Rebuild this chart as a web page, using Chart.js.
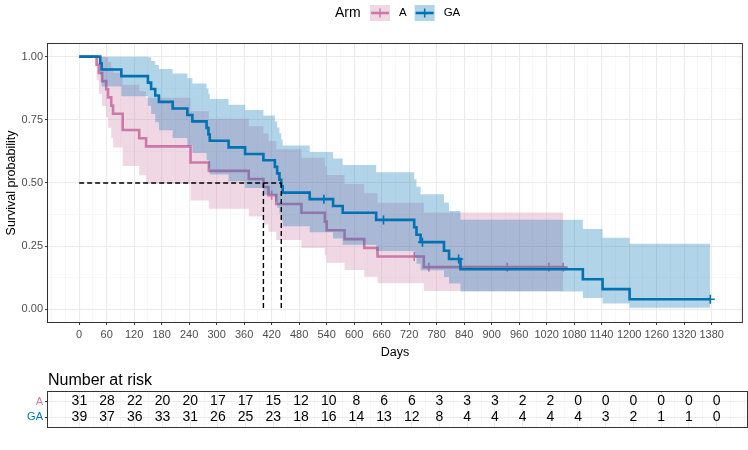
<!DOCTYPE html>
<html>
<head>
<meta charset="utf-8">
<script src="https://cdn.jsdelivr.net/npm/chart.js@4.4.1/dist/chart.umd.min.js"></script>
<style>
  body { margin: 0; background: #fff; }
  canvas { display: block; }
</style>
</head>
<body>
<canvas id="km" width="748" height="365"></canvas>
<canvas id="risk" width="748" height="85"></canvas>
<script>
// arms, colours
const arms = ['A', 'GA'];
const lineColors = ['#CC79A7', '#0072B2'];
const bandColors = ['rgba(204, 121, 167, 0.3)', 'rgba(0, 114, 178, 0.3)'];

// axis breaks
const timeBreaks = [0, 60, 120, 180, 240, 300, 360, 420, 480, 540, 600, 660, 720, 780, 840, 900, 960, 1020, 1080, 1140, 1200, 1260, 1320, 1380];
const survBreaks = [0, 0.25, 0.5, 0.75, 1];

// arm A: KM steps + 95% band
const aTime  = [0, 38, 43, 50, 59, 63, 70, 74, 95, 131, 146, 243, 283, 370, 402, 413, 430, 485, 536, 540, 579, 622, 651, 752, 1056];
const aSurv  = [1, 0.968, 0.935, 0.903, 0.871, 0.839, 0.806, 0.774, 0.710, 0.677, 0.645, 0.581, 0.548, 0.516, 0.484, 0.452, 0.417, 0.382, 0.347, 0.313, 0.278, 0.243, 0.209, 0.167, 0.167];
const aLower = [1, 0.908, 0.853, 0.805, 0.761, 0.719, 0.678, 0.640, 0.567, 0.531, 0.497, 0.431, 0.398, 0.367, 0.336, 0.307, 0.274, 0.243, 0.213, 0.184, 0.156, 0.129, 0.103, 0.073, 0.073];
const aUpper = [1, 1, 1, 1, 0.997, 0.979, 0.958, 0.936, 0.889, 0.863, 0.837, 0.784, 0.754, 0.725, 0.696, 0.666, 0.634, 0.600, 0.566, 0.532, 0.496, 0.459, 0.422, 0.383, 0.383];
const aCensDays = [420, 731, 763, 934, 1025, 1056];
const aCensSurv = [0.452, 0.209, 0.167, 0.167, 0.167, 0.167];

// arm GA
const gaTime  = [0, 46, 49, 92, 150, 157, 166, 174, 204, 236, 247, 278, 282, 285, 326, 362, 402, 427, 432, 437, 441, 444, 503, 554, 575, 648, 731, 736, 745, 796, 807, 832, 1099, 1142, 1201, 1377];
const gaSurv  = [1, 0.974, 0.949, 0.923, 0.897, 0.872, 0.846, 0.821, 0.795, 0.769, 0.744, 0.718, 0.692, 0.667, 0.641, 0.615, 0.590, 0.564, 0.538, 0.513, 0.487, 0.462, 0.436, 0.409, 0.382, 0.354, 0.325, 0.295, 0.266, 0.232, 0.199, 0.159, 0.119, 0.080, 0.040, 0.040];
const gaLower = [1, 0.926, 0.882, 0.843, 0.806, 0.773, 0.740, 0.709, 0.678, 0.648, 0.619, 0.590, 0.561, 0.534, 0.507, 0.480, 0.454, 0.428, 0.402, 0.378, 0.353, 0.329, 0.305, 0.280, 0.256, 0.231, 0.205, 0.180, 0.155, 0.128, 0.102, 0.071, 0.045, 0.023, 0.006, 0.006];
const gaUpper = [1, 1, 1, 1, 0.998, 0.983, 0.967, 0.951, 0.933, 0.914, 0.894, 0.874, 0.853, 0.832, 0.810, 0.789, 0.767, 0.743, 0.720, 0.697, 0.672, 0.648, 0.623, 0.597, 0.571, 0.543, 0.515, 0.485, 0.455, 0.423, 0.389, 0.355, 0.318, 0.283, 0.260, 0.260];
const gaCensDays = [534, 664, 749, 828, 1377];
const gaCensSurv = [0.436, 0.354, 0.266, 0.199, 0.040];

// medians (A, GA)
const medianDays = [402, 441];
const medianSurv = 0.5;

// number at risk at each time break
const aRisk  = [31, 28, 22, 20, 20, 17, 17, 15, 12, 10, 8, 6, 6, 3, 3, 3, 2, 2, 0, 0, 0, 0, 0, 0];
const gaRisk = [39, 37, 36, 33, 31, 26, 25, 23, 18, 16, 14, 13, 12, 8, 4, 4, 4, 4, 4, 3, 2, 1, 1, 0];

Chart.defaults.font.family = '"Liberation Sans", Arial, Helvetica, sans-serif';
Chart.defaults.color = '#4D4D4D';

const X_MIN = -68, X_MAX = 1446;
const pts = (xs, ys) => xs.map((x, i) => ({ x: x, y: ys[i] }));

const xGridTicks = [];
for (let v = -60; v <= 1440; v += 30) xGridTicks.push({ value: v });
const yGridTicks = [];
for (let v = 0; v <= 1; v += 0.125) yGridTicks.push({ value: v });

const isMajorX = (v) => timeBreaks.includes(v);
const isMajorY = (v) => survBreaks.includes(v);

const gridOpts = (isMajor) => ({
  color: (c) => isMajor(c.tick.value) ? '#EBEBEB' : '#F3F3F3',
  lineWidth: (c) => isMajor(c.tick.value) ? 1.1 : 0.6,
  tickColor: (c) => isMajor(c.tick.value) ? '#333333' : 'rgba(0,0,0,0)',
  tickLength: 3,
  tickWidth: 1
});

const panelBorder = {
  id: 'panelBorder',
  afterDraw(chart) {
    const { ctx, chartArea: a } = chart;
    ctx.save();
    ctx.strokeStyle = '#333333';
    ctx.lineWidth = 1;
    ctx.strokeRect(a.left - 0.5, a.top - 0.5, a.right - a.left + 1, a.bottom - a.top + 1);
    ctx.restore();
  }
};

const armLegend = {
  id: 'armLegend',
  afterDraw(chart) {
    const ctx = chart.ctx;
    const y = 13;
    ctx.save();
    ctx.textBaseline = 'middle';
    ctx.fillStyle = '#000';
    ctx.font = '14px "Liberation Sans", Arial, sans-serif';
    ctx.fillText('Arm', 335, y);
    ctx.font = '11.5px "Liberation Sans", Arial, sans-serif';
    let x = 370;
    arms.forEach((arm, i) => {
      ctx.fillStyle = bandColors[i];
      ctx.fillRect(x, y - 8, 20, 16);
      ctx.strokeStyle = lineColors[i];
      ctx.lineWidth = 2.6;
      ctx.beginPath();
      ctx.moveTo(x + 1, y);
      ctx.lineTo(x + 19, y);
      ctx.stroke();
      ctx.lineWidth = 1.5;
      ctx.beginPath();
      ctx.moveTo(x + 10, y - 4.5);
      ctx.lineTo(x + 10, y + 4.5);
      ctx.stroke();
      ctx.fillStyle = '#000';
      ctx.fillText(arm, x + 29, y);
      x += 29 + ctx.measureText(arm).width + 8;
    });
    ctx.restore();
  }
};

const stepLine = (data, color, order) => ({
  data: data, borderColor: color, borderWidth: 2.6, stepped: 'before',
  pointRadius: 0, fill: false, order: order
});
const bandEdge = (data, fill, bg, order) => ({
  data: data, borderWidth: 0, borderColor: 'rgba(0,0,0,0)', stepped: 'before',
  pointRadius: 0, fill: fill, backgroundColor: bg, order: order
});
const censor = (data, color, order) => ({
  data: data, showLine: false, pointStyle: 'cross', pointRadius: 4.5,
  pointBorderWidth: 1.6, pointBorderColor: color, order: order
});
const dashed = (data) => ({
  data: data, borderColor: '#000', borderWidth: 1.4, borderDash: [5, 3],
  pointRadius: 0, fill: false, order: 1
});

new Chart(document.getElementById('km'), {
  type: 'line',
  data: {
    datasets: [
      bandEdge(pts(aTime, aLower), false, 'rgba(0,0,0,0)', 9),
      bandEdge(pts(aTime, aUpper), 0, bandColors[0], 8),
      stepLine(pts(aTime, aSurv), lineColors[0], 7),
      censor(pts(aCensDays, aCensSurv), lineColors[0], 6),
      bandEdge(pts(gaTime, gaLower), false, 'rgba(0,0,0,0)', 5),
      bandEdge(pts(gaTime, gaUpper), 4, bandColors[1], 4),
      stepLine(pts(gaTime, gaSurv), lineColors[1], 3),
      censor(pts(gaCensDays, gaCensSurv), lineColors[1], 2),
      dashed([{ x: 0, y: medianSurv }, { x: Math.max(...medianDays), y: medianSurv }]),
      dashed([{ x: medianDays[0], y: medianSurv }, { x: medianDays[0], y: 0 }]),
      dashed([{ x: medianDays[1], y: medianSurv }, { x: medianDays[1], y: 0 }])
    ]
  },
  options: {
    responsive: false,
    devicePixelRatio: 1,
    animation: false,
    layout: { padding: { top: 44, right: 1, left: 0, bottom: 0 } },
    plugins: { legend: { display: false }, tooltip: { enabled: false } },
    scales: {
      x: {
        type: 'linear', min: X_MIN, max: X_MAX,
        afterBuildTicks: (s) => { s.ticks = xGridTicks.map(t => ({ value: t.value })); },
        afterFit: (s) => { s.height = 43; },
        border: { display: false },
        grid: gridOpts(isMajorX),
        ticks: {
          autoSkip: false, maxRotation: 0, padding: 3,
          font: { size: 11 }, color: '#4D4D4D',
          callback: (v) => isMajorX(v) ? String(v) : ''
        },
        title: { display: true, text: 'Days', color: '#000', font: { size: 12.5 }, padding: { top: 0, bottom: 5 } }
      },
      y: {
        type: 'linear', min: -0.05, max: 1.05,
        afterBuildTicks: (s) => { s.ticks = yGridTicks.map(t => ({ value: t.value })); },
        afterFit: (s) => { s.width = 48; },
        border: { display: false },
        grid: gridOpts(isMajorY),
        ticks: {
          autoSkip: false, padding: 2,
          font: { size: 11 }, color: '#4D4D4D',
          callback: (v) => isMajorY(v) ? v.toFixed(2) : ''
        },
        title: { display: true, text: 'Survival probability', color: '#000', font: { size: 12.5 }, padding: { top: 4, bottom: 0 } }
      }
    }
  },
  plugins: [panelBorder, armLegend]
});

// risk table
const riskText = {
  id: 'riskText',
  afterDraw(chart) {
    const { ctx, chartArea: a } = chart;
    ctx.save();
    ctx.strokeStyle = '#333333';
    ctx.lineWidth = 1;
    ctx.strokeRect(a.left - 0.5, a.top - 0.5, a.right - a.left + 1, a.bottom - a.top + 1);
    ctx.fillStyle = '#000';
    ctx.textAlign = 'center';
    ctx.textBaseline = 'middle';
    ctx.font = '14px "Liberation Sans", Arial, sans-serif';
    chart.data.datasets.forEach((ds, i) => {
      chart.getDatasetMeta(i).data.forEach((pt, j) => {
        ctx.fillText(String(ds.data[j].n), pt.x, pt.y);
      });
    });
    ctx.textAlign = 'left';
    ctx.font = '16px "Liberation Sans", Arial, sans-serif';
    ctx.fillText('Number at risk', 48, 16);
    ctx.restore();
  }
};

new Chart(document.getElementById('risk'), {
  type: 'scatter',
  data: {
    datasets: [aRisk, gaRisk].map((risk, k) => ({
      data: timeBreaks.map((t, i) => ({ x: t, y: k + 1, n: risk[i] })),
      pointRadius: 0
    }))
  },
  options: {
    responsive: false,
    devicePixelRatio: 1,
    animation: false,
    layout: { padding: { top: 27, right: 1, left: 0, bottom: 0 } },
    plugins: { legend: { display: false }, tooltip: { enabled: false } },
    scales: {
      x: {
        type: 'linear', min: X_MIN, max: X_MAX,
        afterBuildTicks: (s) => { s.ticks = xGridTicks.map(t => ({ value: t.value })); },
        afterFit: (s) => { s.height = 23; },
        border: { display: false },
        grid: Object.assign(gridOpts(isMajorX), { drawTicks: false }),
        ticks: { display: false }
      },
      y: {
        type: 'linear', min: 0.4, max: 2.6, reverse: true,
        afterBuildTicks: (s) => { s.ticks = arms.map((a, i) => ({ value: i + 1 })); },
        afterFit: (s) => { s.width = 48; },
        border: { display: false },
        grid: { color: '#EBEBEB', lineWidth: 1.1, tickColor: '#333333', tickLength: 3 },
        ticks: {
          padding: 2, font: { size: 11 },
          color: (c) => lineColors[c.index],
          callback: (v) => arms[v - 1]
        }
      }
    }
  },
  plugins: [riskText]
});
</script>
</body>
</html>
